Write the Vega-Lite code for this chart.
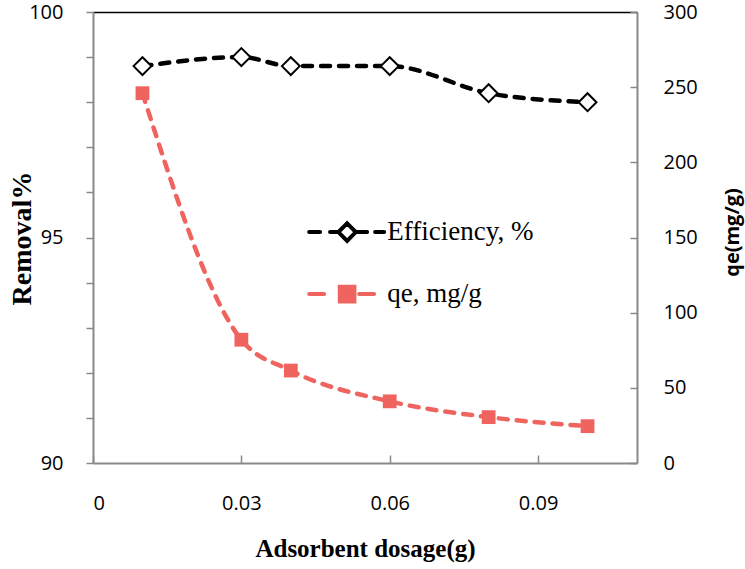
{
  "$schema": "https://vega.github.io/schema/vega-lite/v6.json",
  "autosize": "none",
  "width": 544,
  "height": 451,
  "padding": {"left": 93, "top": 12, "right": 108, "bottom": 106},
  "background": "white",
  "config": {
    "view": {"stroke": null},
    "axis": {
      "domainColor": "#898989",
      "domainWidth": 2,
      "tickColor": "#898989",
      "tickWidth": 1.5,
      "labelFont": "Open Sans",
      "labelFontSize": 20,
      "labelColor": "black",
      "grid": false
    }
  },
  "data": {
    "values": [
      {"dose": 0.01, "eff": 98.8, "qe": 246},
      {"dose": 0.03, "eff": 99.0, "qe": 82},
      {"dose": 0.04, "eff": 98.8, "qe": 61.5},
      {"dose": 0.06, "eff": 98.8, "qe": 41},
      {"dose": 0.08, "eff": 98.2, "qe": 30.5},
      {"dose": 0.1, "eff": 98.0, "qe": 24.5}
    ]
  },
  "encoding": {
    "x": {
      "field": "dose",
      "type": "quantitative",
      "scale": {"domain": [0, 0.11], "nice": false, "zero": false},
      "axis": {
        "values": [0, 0.03, 0.06, 0.09],
        "labelExpr": "datum.value === 0 ? '0' : format(datum.value, '.2f')",
        "tickSize": -8,
        "labelPadding": 38,
        "title": "Adsorbent dosage(g)",
        "titleFont": "Liberation Serif",
        "titleFontSize": 25,
        "titleFontWeight": "bold",
        "titleColor": "black",
        "titlePadding": 23
      }
    }
  },
  "layer": [
    {
      "layer": [
        {
          "mark": {"type": "line", "strokeWidth": 4.5, "strokeDash": [9, 9], "strokeCap": "round", "interpolate": "monotone"},
          "encoding": {
            "y": {
              "field": "eff",
              "type": "quantitative",
              "scale": {"domain": [90, 100], "nice": false, "zero": false},
              "axis": {
                "orient": "left",
                "values": [90, 91, 92, 93, 94, 95, 96, 97, 98, 99, 100],
                "labelExpr": "datum.value % 5 === 0 ? datum.label : ''",
                "tickSize": 7,
                "labelPadding": 23,
                "grid": true,
                "gridColor": "black",
                "gridWidth": 1.5,
                "gridOpacity": {"condition": {"test": "datum.value === 100", "value": 1}, "value": 0},
                "title": "Removal%",
                "titleFont": "Liberation Serif",
                "titleFontSize": 28,
                "titleFontWeight": "bold",
                "titleColor": "black",
                "titleAngle": 270,
                "titleAlign": "center",
                "titleBaseline": "middle",
                "titleX": -71,
                "titleY": 226
              }
            },
            "color": {
              "datum": "Efficiency, %",
              "type": "nominal",
              "scale": {"domain": ["Efficiency, %", "qe, mg/g"], "range": ["black", "#EF645F"]},
              "legend": {
                "orient": "none",
                "legendX": 234.6,
                "legendY": 200.6,
                "padding": 0,
                "title": null,
                "symbolSize": 1211,
                "labelFont": "Liberation Serif",
                "labelFontSize": 27,
                "labelColor": "black",
                "labelOffset": 20.6,
                "rowPadding": 25,
                "encode": {
                  "symbols": {
                    "update": {
                      "shape": {"signal": "datum.value === 'Efficiency, %' ? 'M-2.18,0H-1.55M-0.98,0H-0.45M0.47,0H1.15M1.61,0H2.13M0,-0.5L0.5,0L0,0.5L-0.5,0Z' : 'M-2.18,0H-1.32M0.69,0H1.55M-0.42,-0.42H0.42V0.42H-0.42Z'"},
                      "fill": {"signal": "datum.value === 'Efficiency, %' ? 'white' : '#EF645F'"},
                      "stroke": {"signal": "datum.value === 'Efficiency, %' ? 'black' : '#EF645F'"},
                      "strokeWidth": {"value": 4},
                      "strokeCap": {"value": "round"},
                      "strokeDash": {"value": []},
                      "opacity": {"value": 1}
                    }
                  }
                }
              }
            }
          }
        },
        {
          "mark": {"type": "point", "shape": "diamond", "filled": true, "fill": "white", "stroke": "black", "strokeWidth": 2, "size": 320, "opacity": 1},
          "encoding": {
            "y": {"field": "eff", "type": "quantitative"}
          }
        }
      ]
    },
    {
      "layer": [
        {
          "mark": {"type": "line", "strokeWidth": 4.5, "strokeDash": [9, 9], "strokeCap": "round", "interpolate": "monotone"},
          "encoding": {
            "y": {
              "field": "qe",
              "type": "quantitative",
              "scale": {"domain": [0, 300], "nice": false},
              "axis": {
                "orient": "right",
                "values": [0, 50, 100, 150, 200, 250, 300],
                "tickSize": -7,
                "labelPadding": 33,
                "title": "qe(mg/g)",
                "titleFont": "Open Sans",
                "titleFontSize": 20,
                "titleFontWeight": "bold",
                "titleColor": "black",
                "titleAngle": 270,
                "titleAlign": "center",
                "titleBaseline": "middle",
                "titleX": 95,
                "titleY": 220
              }
            },
            "color": {"datum": "qe, mg/g", "type": "nominal"}
          }
        },
        {
          "mark": {"type": "point", "shape": "square", "filled": true, "color": "#EF645F", "size": 190, "opacity": 1},
          "encoding": {
            "y": {"field": "qe", "type": "quantitative"}
          }
        }
      ]
    }
  ],
  "resolve": {"scale": {"y": "independent"}}
}
